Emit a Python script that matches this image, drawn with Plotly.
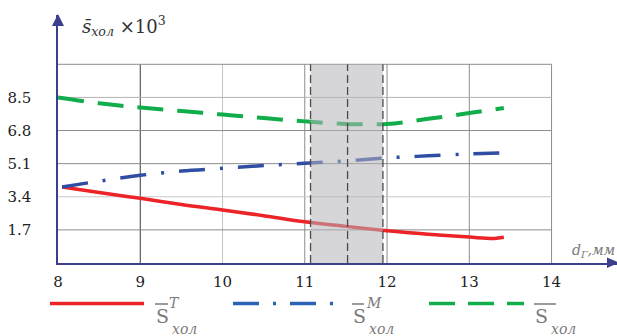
import plotly.graph_objects as go

# ---- data ----
x_red = [8.05, 8.5, 9, 9.5, 10, 10.5, 11, 11.5, 12, 12.5, 13, 13.3, 13.42]
y_red = [3.9, 3.62, 3.32, 3.0, 2.72, 2.43, 2.12, 1.88, 1.66, 1.48, 1.33, 1.26, 1.32]
x_blue = [8.05, 8.5, 9, 9.5, 10, 10.5, 11, 11.5, 12, 12.5, 13, 13.42]
y_blue = [3.9, 4.2, 4.5, 4.72, 4.86, 5.0, 5.12, 5.24, 5.4, 5.5, 5.6, 5.66]
x_green = [8.0, 8.5, 9, 9.5, 10, 10.5, 11, 11.5, 12, 12.5, 13, 13.42]
y_green = [8.5, 8.2, 7.98, 7.8, 7.62, 7.44, 7.27, 7.14, 7.14, 7.4, 7.7, 7.96]
x_ticks = [8, 9, 10, 11, 12, 13, 14]
y_ticks = [1.7, 3.4, 5.1, 6.8, 8.5]
y_top_grid = 10.2
shade = [11.07, 11.95]
shade_mid = 11.52

W, H = 617, 336
ML, MR, MT, MB = 58, 0, 15, 73
PW, PH = W - ML - MR, H - MT - MB
def PX(px): return (px - ML) / PW
def PY(py): return (H - MB - py) / PH

SERIF = "DejaVu Serif"
RED, BLUE, GREEN = "#ec2327", "#2f4ea3", "#12ad4b"
AX = "#3c3f8c"

fig = go.Figure()
fig.add_trace(go.Scatter(x=x_red, y=y_red, mode="lines", line=dict(color=RED, width=3.5, shape="spline"), showlegend=False))
fig.add_trace(go.Scatter(x=x_blue, y=y_blue, mode="lines", line=dict(color=BLUE, width=3.5, shape="spline", dash="26px,15px,3px,15px"), showlegend=False))
fig.add_trace(go.Scatter(x=x_green, y=y_green, mode="lines", line=dict(color=GREEN, width=4, shape="spline", dash="26px,14px"), showlegend=False))

shapes = []
for v in x_ticks[1:]:
    col = "#3a3a3a" if v == 9 else ("#c6c6c6" if v == 10 else "#8c8c8c")
    shapes.append(dict(type="line", xref="x", yref="y", x0=v, x1=v, y0=0, y1=y_top_grid, line=dict(color=col, width=1), layer="below"))
for v in y_ticks + [y_top_grid]:
    col = "#c8c8c8" if v == 3.4 else ("#b4b4b4" if v == 8.5 else "#8c8c8c")
    shapes.append(dict(type="line", xref="x", yref="y", x0=8, x1=14, y0=v, y1=v, line=dict(color=col, width=1), layer="below"))
shapes.append(dict(type="rect", xref="x", yref="y", x0=shade[0], x1=shade[1], y0=0, y1=y_top_grid,
                   fillcolor="rgba(180,181,186,0.55)", line=dict(width=0), layer="above"))
for v in [shade[0], shade_mid, shade[1]]:
    shapes.append(dict(type="line", xref="x", yref="y", x0=v, x1=v, y0=0, y1=y_top_grid,
                       line=dict(color="#4a4a4a", width=1.3, dash="8px,4px"), layer="above"))
shapes.append(dict(type="path", xref="paper", yref="paper",
                   path=f"M {PX(52)} {PY(26)} L {PX(58)} {PY(14)} L {PX(64)} {PY(26)} Z",
                   fillcolor=AX, line=dict(width=0)))
shapes.append(dict(type="path", xref="paper", yref="paper",
                   path=f"M {PX(607)} {PY(257.5)} L {PX(619)} {PY(262.7)} L {PX(607)} {PY(268)} Z",
                   fillcolor=AX, line=dict(width=0)))

annotations = []
leg = [
    (50, 144, RED, "solid", 155, "T", 13),
    (233, 335, "#2a63b5", "26px,14px,3px,14px", 352, "M", 12),
    (429, 524, GREEN, "26px,13px", 534, None, 22),
]
GRAY = "#7a7a7a"
for x0, x1, col, dash, sx, sup, bw in leg:
    shapes.append(dict(type="line", xref="paper", yref="paper", x0=PX(x0), x1=PX(x1), y0=PY(303.5), y1=PY(303.5),
                       line=dict(color=col, width=3.5, dash=dash)))
    shapes.append(dict(type="line", xref="paper", yref="paper", x0=PX(sx), x1=PX(sx + bw), y0=PY(304), y1=PY(304),
                       line=dict(color=GRAY, width=1.5)))
    annotations.append(dict(xref="paper", yref="paper", x=PX(sx - 1), y=PY(316), xanchor="left", yanchor="middle",
                            text="S", showarrow=False, font=dict(family=SERIF, size=19, color=GRAY)))
    if sup:
        annotations.append(dict(xref="paper", yref="paper", x=PX(sx + 12), y=PY(303), xanchor="left", yanchor="middle",
                                text=f"<i>{sup}</i>", showarrow=False, font=dict(family=SERIF, size=14, color=GRAY)))
    annotations.append(dict(xref="paper", yref="paper", x=PX(sx + 15), y=PY(329), xanchor="left", yanchor="middle",
                            text="<i>хол</i>", showarrow=False, font=dict(family=SERIF, size=14, color=GRAY)))

annotations.append(dict(xref="paper", yref="paper", x=PX(80), y=PY(26), xanchor="left", yanchor="middle",
                        text="<i>s̄</i><sub><i>хол</i></sub> ×10<sup>3</sup>", showarrow=False,
                        font=dict(family=SERIF, size=18, color="#333333")))
annotations.append(dict(xref="paper", yref="paper", x=PX(570), y=PY(251), xanchor="left", yanchor="middle",
                        text="<i>d<sub>Г</sub>,мм</i>", showarrow=False,
                        font=dict(family=SERIF, size=14, color="#7a7a7a")))

fig.update_layout(
    width=W, height=H, margin=dict(l=ML, r=MR, t=MT, b=MB),
    paper_bgcolor="white", plot_bgcolor="white",
    font=dict(family=SERIF),
    shapes=shapes, annotations=annotations, showlegend=False,
    xaxis=dict(range=[8, 8 + PW / 82.26], tickvals=x_ticks, ticktext=[str(v) for v in x_ticks],
               showgrid=False, zeroline=False, showline=True, linecolor=AX, linewidth=1.5,
               ticks="", ticklabelstandoff=4, tickfont=dict(family=SERIF, size=15, color="#222222")),
    yaxis=dict(range=[0, PH / 19.48], tickvals=y_ticks, ticktext=[f"{v:.1f}" for v in y_ticks],
               showgrid=False, zeroline=False, showline=True, linecolor=AX, linewidth=1.5,
               ticks="", ticklabelstandoff=22, tickfont=dict(family=SERIF, size=15, color="#222222")),
)
fig.write_html("out.html", config={"displayModeBar": False},
               post_script="document.body.style.margin='0';document.body.style.padding='0';")
